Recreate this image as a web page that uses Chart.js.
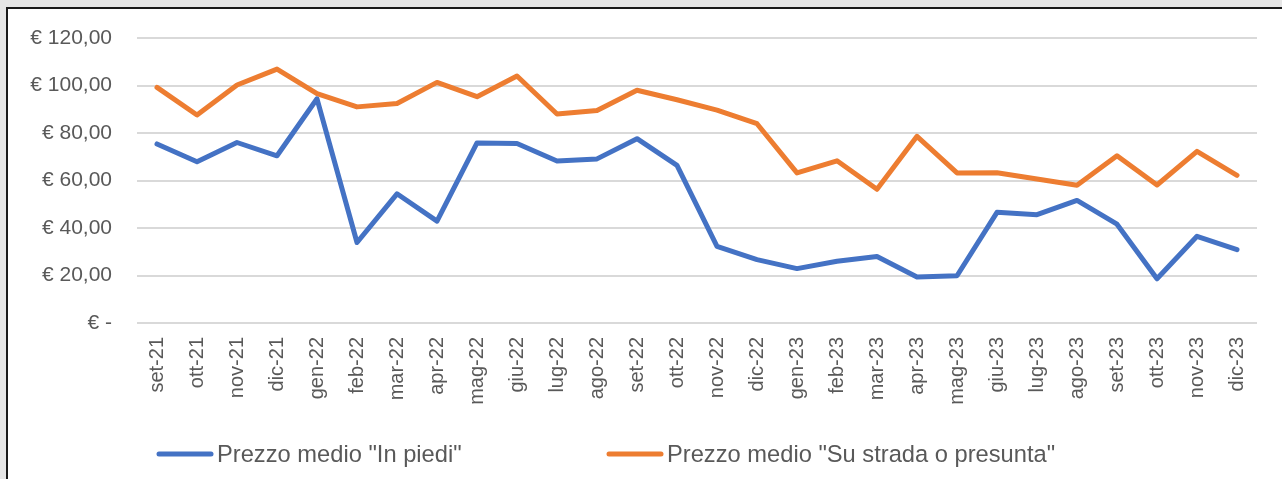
<!DOCTYPE html>
<html>
<head>
<meta charset="utf-8">
<script src="https://cdn.jsdelivr.net/npm/chart.js@4.4.1/dist/chart.umd.min.js"></script>
<style>
  html, body { margin: 0; padding: 0; background: #e6e6e6; width: 1282px; height: 479px; overflow: hidden; }
  #box { position: absolute; left: 6px; top: 7px; width: 1290px; height: 490px; border-left: 2px solid #1a1a1a; border-top: 2px solid #1a1a1a; background: #ffffff; }
  #c { position: absolute; left: 0; top: 0; }
</style>
</head>
<body>
<div id="box"><canvas id="c" width="1274" height="470"></canvas></div>
<script>
const categories = ['set-21','ott-21','nov-21','dic-21','gen-22','feb-22','mar-22','apr-22','mag-22','giu-22','lug-22','ago-22','set-22','ott-22','nov-22','dic-22','gen-23','feb-23','mar-23','apr-23','mag-23','giu-23','lug-23','ago-23','set-23','ott-23','nov-23','dic-23'];
const prezzoInPiedi = [75.4, 67.9, 76.0, 70.4, 94.4, 33.9, 54.4, 42.9, 75.8, 75.6, 68.2, 69.1, 77.6, 66.4, 32.3, 26.7, 22.9, 26.0, 28.0, 19.4, 19.9, 46.6, 45.6, 51.6, 41.6, 18.6, 36.5, 30.9];
const prezzoSuStrada = [99.2, 87.6, 100.2, 106.9, 96.6, 91.0, 92.4, 101.3, 95.3, 104.0, 88.0, 89.5, 98.0, 94.0, 89.6, 83.9, 63.2, 68.3, 56.3, 78.6, 63.2, 63.3, 60.6, 58.0, 70.4, 58.1, 72.3, 62.2];
const seriesNames = ['Prezzo medio "In piedi"', 'Prezzo medio "Su strada o presunta"'];
const yTickLabels = ['€ -', '€ 20,00', '€ 40,00', '€ 60,00', '€ 80,00', '€ 100,00', '€ 120,00'];

const textColor = '#595959';
const fontFamily = '"Liberation Sans", Arial, sans-serif';

const customLegend = {
  id: 'customLegend',
  afterDraw(chart) {
    const ctx = chart.ctx;
    const y = 445;
    const starts = [chart.chartArea.left + 20, chart.chartArea.left + 470];
    ctx.save();
    ctx.font = '23.7px ' + fontFamily;
    ctx.textBaseline = 'middle';
    ctx.textAlign = 'left';
    chart.data.datasets.forEach((ds, i) => {
      const x = starts[i];
      ctx.strokeStyle = ds.borderColor;
      ctx.lineWidth = 5;
      ctx.lineCap = 'round';
      ctx.beginPath();
      ctx.moveTo(x + 2, y);
      ctx.lineTo(x + 54, y);
      ctx.stroke();
      ctx.fillStyle = textColor;
      ctx.fillText(ds.label, x + 60, y + 1);
    });
    ctx.restore();
  }
};

new Chart(document.getElementById('c'), {
  type: 'line',
  data: {
    labels: categories,
    datasets: [
      { label: seriesNames[0], data: prezzoInPiedi, borderColor: '#4472C4', backgroundColor: '#4472C4' },
      { label: seriesNames[1], data: prezzoSuStrada, borderColor: '#ED7D31', backgroundColor: '#ED7D31' }
    ]
  },
  options: {
    responsive: false,
    animation: false,
    devicePixelRatio: 1,
    layout: { padding: { top: 29, right: 25, left: 0, bottom: 0 } },
    elements: {
      line: { borderWidth: 5, tension: 0, borderCapStyle: 'round', borderJoinStyle: 'round' },
      point: { radius: 0, hoverRadius: 0 }
    },
    plugins: { legend: { display: false }, tooltip: { enabled: false } },
    scales: {
      x: {
        offset: true,
        grid: { display: false, drawTicks: false },
        border: { display: false },
        ticks: {
          color: textColor,
          font: { family: fontFamily, size: 20 },
          minRotation: 90, maxRotation: 90,
          padding: 14,
          autoSkip: false
        },
        afterFit(scale) { scale.height = 156; }
      },
      y: {
        min: 0, max: 120,
        grid: { color: '#d9d9d9', lineWidth: 2, drawTicks: false },
        border: { display: false },
        ticks: {
          stepSize: 20,
          color: textColor,
          font: { family: fontFamily, size: 21 },
          padding: 25,
          callback: (v, i) => yTickLabels[i]
        },
        afterFit(scale) { scale.width = 129; scale.paddingTop = 0; scale.paddingBottom = 0; }
      }
    }
  },
  plugins: [customLegend]
});
</script>
</body>
</html>
